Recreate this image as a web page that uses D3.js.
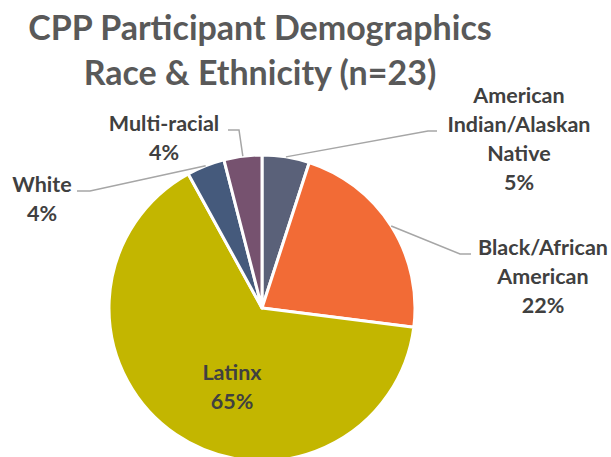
<!DOCTYPE html>
<html>
<head>
<meta charset="utf-8">
<script src="https://cdn.jsdelivr.net/npm/d3@7"></script>
<style>
  html, body { margin: 0; padding: 0; background: #fff; }
  svg { display: block; }
  text { font-family: Lato, "Open Sans", sans-serif; font-weight: bold; }
</style>
</head>
<body>
<svg id="chart" width="611" height="457"></svg>
<script>
// Race & ethnicity breakdown of CPP participants (n = 23)
const categories = ["American Indian/Alaskan Native", "Black/African American", "Latinx", "White", "Multi-racial"];
const percents = [5, 22, 65, 4, 4];
const colors = ["#5A6179", "#F26B36", "#C3B600", "#455A7C", "#76526F"];
// Label text broken into lines, one list per category
const labelLines = [
  ["American", "Indian/Alaskan", "Native"],
  ["Black/African", "American"],
  ["Latinx"],
  ["White"],
  ["Multi-racial"]
];
const titleLines = ["CPP Participant Demographics", "Race & Ethnicity (n=23)"];

const svg = d3.select("#chart");
const cx = 262, cy = 308, R = 153;

// Title
svg.append("g")
  .selectAll("text")
  .data(titleLines)
  .join("text")
  .attr("x", 260)
  .attr("y", (d, i) => 40 + i * 45)
  .attr("text-anchor", "middle")
  .attr("fill", "#595959")
  .attr("font-size", 34)
  .text(d => d);

const data = categories.map((c, i) => ({ name: c, value: percents[i], color: colors[i], lines: labelLines[i] }));

const pie = d3.pie().value(d => d.value).sort(null);
const arcs = pie(data);
const arc = d3.arc().innerRadius(0).outerRadius(R);
const edgeArc = d3.arc().innerRadius(R).outerRadius(R);

const g = svg.append("g").attr("transform", `translate(${cx},${cy})`);

g.selectAll("path.slice")
  .data(arcs)
  .join("path")
  .attr("class", "slice")
  .attr("d", arc)
  .attr("fill", d => d.data.color)
  .attr("stroke", "#fff")
  .attr("stroke-width", 3)
  .attr("stroke-linejoin", "round");

// Label placement: text centre x, first baseline y, leader elbow and leader end (near the text)
const labelLayout = [
  { x: 519, y: 103, elbow: [428, 131], end: [437, 131], inside: false },
  { x: 543, y: 255, elbow: [460, 254], end: [471, 254], inside: false },
  { x: 232, y: 380, inside: true },
  { x: 42, y: 192, elbow: [90, 191], end: [77, 191], inside: false },
  { x: 164, y: 131, elbow: [239, 130], end: [228, 130], inside: false }
];
const lineGap = 29;

// Leader lines from each slice edge to its label
arcs.forEach((a, i) => {
  const L = labelLayout[i];
  if (L.inside) return;
  const [ex, ey] = edgeArc.centroid(a);
  const pts = [[cx + ex, cy + ey], L.elbow, L.end];
  svg.append("path")
    .attr("d", d3.line()(pts))
    .attr("fill", "none")
    .attr("stroke", "#A6A6A6")
    .attr("stroke-width", 1.5);
});

// Category labels with percentages
arcs.forEach((a, i) => {
  const L = labelLayout[i];
  const lines = a.data.lines.concat([d3.format(".0f")(a.data.value) + "%"]);
  const t = svg.append("text")
    .attr("text-anchor", "middle")
    .attr("fill", "#404040")
    .attr("font-size", 21.5);
  lines.forEach((s, k) => {
    t.append("tspan")
      .attr("x", L.x)
      .attr("y", L.y + k * lineGap)
      .text(s);
  });
});
</script>
</body>
</html>
